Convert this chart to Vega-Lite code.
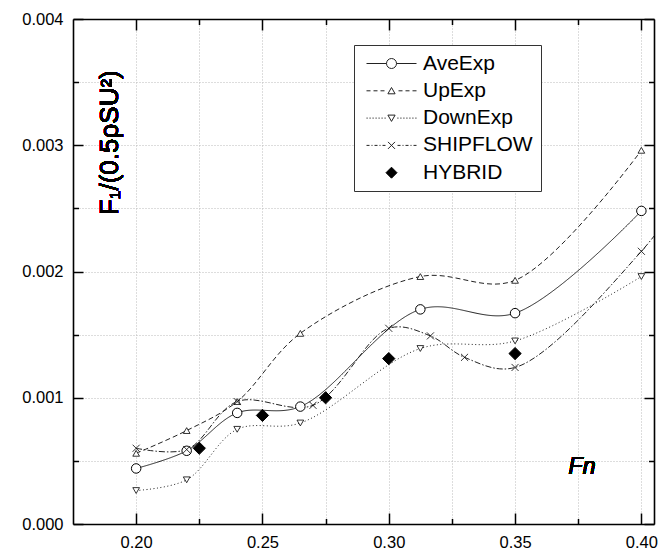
{
  "$schema": "https://vega.github.io/schema/vega-lite/v6.json",
  "width": 581,
  "height": 505,
  "autosize": {"type": "none"},
  "padding": {"left": 73, "top": 19, "right": 16, "bottom": 26},
  "config": {
    "view": {"stroke": null},
    "font": "Liberation Sans",
    "axis": {"title": null, "labelFont": "Liberation Sans", "labelColor": "black", "tickColor": "black", "domainColor": "black"}
  },
  "data": {"values": [
    {"series": "AveExp", "x": 0.20, "y": 0.00044},
    {"series": "AveExp", "x": 0.22, "y": 0.00058},
    {"series": "AveExp", "x": 0.24, "y": 0.00088},
    {"series": "AveExp", "x": 0.265, "y": 0.00093},
    {"series": "AveExp", "x": 0.3125, "y": 0.0017},
    {"series": "AveExp", "x": 0.35, "y": 0.00167},
    {"series": "AveExp", "x": 0.40, "y": 0.00248},
    {"series": "UpExp", "x": 0.20, "y": 0.00056},
    {"series": "UpExp", "x": 0.22, "y": 0.00074},
    {"series": "UpExp", "x": 0.24, "y": 0.00097},
    {"series": "UpExp", "x": 0.265, "y": 0.00151},
    {"series": "UpExp", "x": 0.3125, "y": 0.00196},
    {"series": "UpExp", "x": 0.35, "y": 0.00193},
    {"series": "UpExp", "x": 0.40, "y": 0.00296},
    {"series": "DownExp", "x": 0.20, "y": 0.000265},
    {"series": "DownExp", "x": 0.22, "y": 0.00035},
    {"series": "DownExp", "x": 0.24, "y": 0.00075},
    {"series": "DownExp", "x": 0.265, "y": 0.0008},
    {"series": "DownExp", "x": 0.3125, "y": 0.00139},
    {"series": "DownExp", "x": 0.35, "y": 0.00145},
    {"series": "DownExp", "x": 0.40, "y": 0.00196},
    {"series": "SHIPFLOW", "x": 0.20, "y": 0.0006},
    {"series": "SHIPFLOW", "x": 0.22, "y": 0.00059},
    {"series": "SHIPFLOW", "x": 0.24, "y": 0.00097},
    {"series": "SHIPFLOW", "x": 0.27, "y": 0.00094},
    {"series": "SHIPFLOW", "x": 0.30, "y": 0.00155},
    {"series": "SHIPFLOW", "x": 0.3165, "y": 0.00149},
    {"series": "SHIPFLOW", "x": 0.33, "y": 0.00132},
    {"series": "SHIPFLOW", "x": 0.35, "y": 0.00124},
    {"series": "SHIPFLOW", "x": 0.40, "y": 0.00216},
    {"series": "SHIPFLOW", "x": 0.42, "y": 0.0027},
    {"series": "HYBRID", "x": 0.225, "y": 0.0006},
    {"series": "HYBRID", "x": 0.25, "y": 0.00086},
    {"series": "HYBRID", "x": 0.275, "y": 0.001},
    {"series": "HYBRID", "x": 0.30, "y": 0.00131},
    {"series": "HYBRID", "x": 0.35, "y": 0.00135}
  ]},
  "layer": [
    {
      "mark": {"type": "point", "opacity": 0},
      "encoding": {
        "x": {"field": "x", "type": "quantitative", "scale": {"domain": [0.175, 0.405], "nice": false, "zero": false},
          "axis": {"orient": "bottom", "values": [0.2, 0.225, 0.25, 0.275, 0.3, 0.325, 0.35, 0.375, 0.4], "grid": true, "gridDash": [1, 2], "gridColor": "#bbbbbb", "gridWidth": 1, "ticks": false, "labels": false, "domain": false}},
        "y": {"field": "y", "type": "quantitative", "scale": {"domain": [0, 0.004], "nice": false, "zero": false},
          "axis": {"orient": "left", "values": [0.0005, 0.001, 0.0015, 0.002, 0.0025, 0.003, 0.0035], "grid": true, "gridDash": [1, 2], "gridColor": "#bbbbbb", "gridWidth": 1, "ticks": false, "labels": false, "domain": false}}
      }
    },
    {
      "mark": {"type": "point", "opacity": 0},
      "encoding": {
        "x": {"field": "x", "type": "quantitative",
          "axis": {"orient": "bottom", "values": [0.2, 0.25, 0.3, 0.35, 0.4], "format": ".2f", "grid": false, "ticks": false, "labelFontSize": 16.5, "labelPadding": 10, "domain": true, "domainWidth": 1.6}},
        "y": {"field": "y", "type": "quantitative",
          "axis": {"orient": "left", "values": [0, 0.001, 0.002, 0.003, 0.004], "format": ".3f", "grid": false, "ticks": false, "labelFontSize": 16.5, "labelPadding": 10, "domain": true, "domainWidth": 1.6}}
      }
    },
    {
      "mark": {"type": "point", "opacity": 0},
      "encoding": {
        "x": {"field": "x", "type": "quantitative",
          "axis": {"orient": "bottom", "values": [0.2, 0.25, 0.3, 0.35, 0.4], "grid": false, "labels": false, "domain": false, "ticks": true, "tickSize": -11, "tickWidth": 1.5}},
        "y": {"field": "y", "type": "quantitative",
          "axis": {"orient": "left", "values": [0, 0.001, 0.002, 0.003, 0.004], "grid": false, "labels": false, "domain": false, "ticks": true, "tickSize": -10, "tickWidth": 1.5}}
      }
    },
    {
      "mark": {"type": "point", "opacity": 0},
      "encoding": {
        "x": {"field": "x", "type": "quantitative",
          "axis": {"orient": "bottom", "values": [0.225, 0.275, 0.325, 0.375], "grid": false, "labels": false, "domain": false, "ticks": true, "tickSize": -5.5, "tickWidth": 1.5}},
        "y": {"field": "y", "type": "quantitative",
          "axis": {"orient": "left", "values": [0.0005, 0.0015, 0.0025, 0.0035], "grid": false, "labels": false, "domain": false, "ticks": true, "tickSize": -5.5, "tickWidth": 1.5}}
      }
    },
    {
      "mark": {"type": "point", "opacity": 0},
      "encoding": {
        "x": {"field": "x", "type": "quantitative",
          "axis": {"orient": "top", "values": [0.2, 0.25, 0.3, 0.35, 0.4], "grid": false, "labels": false, "domain": true, "domainWidth": 1.6, "ticks": true, "tickSize": -11, "tickWidth": 1.5}},
        "y": {"field": "y", "type": "quantitative",
          "axis": {"orient": "right", "values": [0, 0.001, 0.002, 0.003, 0.004], "grid": false, "labels": false, "domain": true, "domainWidth": 1.6, "ticks": true, "tickSize": -10, "tickWidth": 1.5}}
      }
    },
    {
      "mark": {"type": "point", "opacity": 0},
      "encoding": {
        "x": {"field": "x", "type": "quantitative",
          "axis": {"orient": "top", "values": [0.225, 0.275, 0.325, 0.375], "grid": false, "labels": false, "domain": false, "ticks": true, "tickSize": -5.5, "tickWidth": 1.5}},
        "y": {"field": "y", "type": "quantitative",
          "axis": {"orient": "right", "values": [0.0005, 0.0015, 0.0025, 0.0035], "grid": false, "labels": false, "domain": false, "ticks": true, "tickSize": -5.5, "tickWidth": 1.5}}
      }
    },
    {
      "transform": [{"filter": "datum.series !== 'HYBRID'"}],
      "mark": {"type": "line", "interpolate": "catmull-rom", "color": "#222222", "strokeWidth": 1, "clip": true},
      "encoding": {
        "x": {"field": "x", "type": "quantitative", "axis": null},
        "y": {"field": "y", "type": "quantitative", "axis": null},
        "strokeDash": {"field": "series", "type": "nominal", "legend": null,
          "scale": {"domain": ["AveExp", "UpExp", "DownExp", "SHIPFLOW"], "range": [[1, 0], [5, 3], [1, 2.5], [6, 2, 1.5, 2]]}}
      }
    },
    {
      "transform": [{"filter": "datum.series === 'AveExp'"}],
      "mark": {"type": "point", "shape": "circle", "size": 90, "filled": true, "fill": "white", "stroke": "black", "strokeWidth": 1, "opacity": 1},
      "encoding": {"x": {"field": "x", "type": "quantitative", "axis": null}, "y": {"field": "y", "type": "quantitative", "axis": null}}
    },
    {
      "transform": [{"filter": "datum.series === 'UpExp'"}],
      "mark": {"type": "point", "shape": "triangle-up", "size": 45, "filled": true, "fill": "white", "stroke": "black", "strokeWidth": 0.8, "opacity": 1},
      "encoding": {"x": {"field": "x", "type": "quantitative", "axis": null}, "y": {"field": "y", "type": "quantitative", "axis": null}}
    },
    {
      "transform": [{"filter": "datum.series === 'DownExp'"}],
      "mark": {"type": "point", "shape": "triangle-down", "size": 45, "filled": true, "fill": "white", "stroke": "black", "strokeWidth": 0.8, "opacity": 1},
      "encoding": {"x": {"field": "x", "type": "quantitative", "axis": null}, "y": {"field": "y", "type": "quantitative", "axis": null}}
    },
    {
      "transform": [{"filter": "datum.series === 'SHIPFLOW'"}],
      "mark": {"type": "point", "shape": "M-1,-1L1,1M-1,1L1,-1", "size": 50, "filled": false, "stroke": "black", "strokeWidth": 0.8, "opacity": 1, "clip": true},
      "encoding": {"x": {"field": "x", "type": "quantitative", "axis": null}, "y": {"field": "y", "type": "quantitative", "axis": null}}
    },
    {
      "transform": [{"filter": "datum.series === 'HYBRID'"}],
      "mark": {"type": "point", "shape": "diamond", "size": 150, "filled": true, "fill": "black", "stroke": "black", "strokeWidth": 1, "opacity": 1},
      "encoding": {"x": {"field": "x", "type": "quantitative", "axis": null}, "y": {"field": "y", "type": "quantitative", "axis": null}}
    },
    {
      "transform": [{"filter": "false"}],
      "mark": {"type": "point", "filled": true, "strokeWidth": 1, "size": 400, "opacity": 1},
      "encoding": {
        "x": {"field": "x", "type": "quantitative", "axis": null},
        "y": {"field": "y", "type": "quantitative", "axis": null},
        "shape": {"field": "series", "type": "nominal",
          "scale": {"domain": ["AveExp", "UpExp", "DownExp", "SHIPFLOW", "HYBRID"], "range": [
            "M-2.5,0H-0.5M0.5,0H2.5M-0.5,0A0.5,0.5,0,1,1,0.5,0A0.5,0.5,0,1,1,-0.5,0Z",
            "M-2.5,0H-2.1M-1.8,0H-1.4M-1.1,0H-0.7M0.7,0H1.1M1.4,0H1.8M2.1,0H2.5M0,-0.33L0.36,0.3L-0.36,0.3Z",
            "M-2.5,0H-2.38M-2.2,0H-2.08M-1.9,0H-1.78M-1.6,0H-1.48M-1.3,0H-1.18M-1.0,0H-0.88M-0.7,0H-0.58M0.58,0H0.7M0.88,0H1.0M1.18,0H1.3M1.48,0H1.6M1.78,0H1.9M2.08,0H2.2M2.38,0H2.5M0,0.33L0.36,-0.3L-0.36,-0.3Z",
            "M-2.5,0H-2.2M-2.0,0H-1.9M-1.7,0H-1.4M-1.2,0H-1.1M-0.9,0H-0.6M0.6,0H0.9M1.1,0H1.2M1.4,0H1.7M1.9,0H2.0M2.2,0H2.5M-0.35,-0.35L0.35,0.35M-0.35,0.35L0.35,-0.35",
            "M0,-0.55L0.55,0L0,0.55L-0.55,0Z"]},
          "legend": {"title": null, "orient": "none", "legendX": 281, "legendY": 26, "padding": 8,
            "strokeColor": "#333333", "fillColor": "white",
            "labelFont": "Liberation Sans", "labelFontSize": 21, "labelColor": "black",
            "symbolOffset": 19, "labelOffset": 21, "rowPadding": 5.3, "symbolSize": 400,
            "symbolStrokeWidth": 1, "symbolOpacity": 1}},
        "fill": {"field": "series", "type": "nominal",
          "scale": {"domain": ["AveExp", "UpExp", "DownExp", "SHIPFLOW", "HYBRID"], "range": ["white", "white", "white", "white", "black"]},
          "legend": {"title": null}},
        "stroke": {"field": "series", "type": "nominal",
          "scale": {"domain": ["AveExp", "UpExp", "DownExp", "SHIPFLOW", "HYBRID"], "range": ["#222222", "#222222", "#222222", "#222222", "black"]},
          "legend": {"title": null}}
      }
    },
    {
      "mark": {"type": "text", "angle": 270, "fontSize": 26, "font": "Liberation Sans", "color": "black", "align": "center", "baseline": "middle"},
      "encoding": {
        "x": {"datum": 0.1895, "type": "quantitative", "axis": null},
        "y": {"datum": 0.00302, "type": "quantitative", "axis": null},
        "text": {"value": "F₁/(0.5ρSU²)"}
      }
    },
    {
      "mark": {"type": "text", "fontSize": 23, "font": "Liberation Sans", "fontStyle": "italic", "color": "black", "align": "center", "baseline": "middle"},
      "encoding": {
        "x": {"datum": 0.3765, "type": "quantitative", "axis": null},
        "y": {"datum": 0.000455, "type": "quantitative", "axis": null},
        "text": {"value": "Fn"}
      }
    }
  ],
  "resolve": {"axis": {"x": "independent", "y": "independent"}}
}
